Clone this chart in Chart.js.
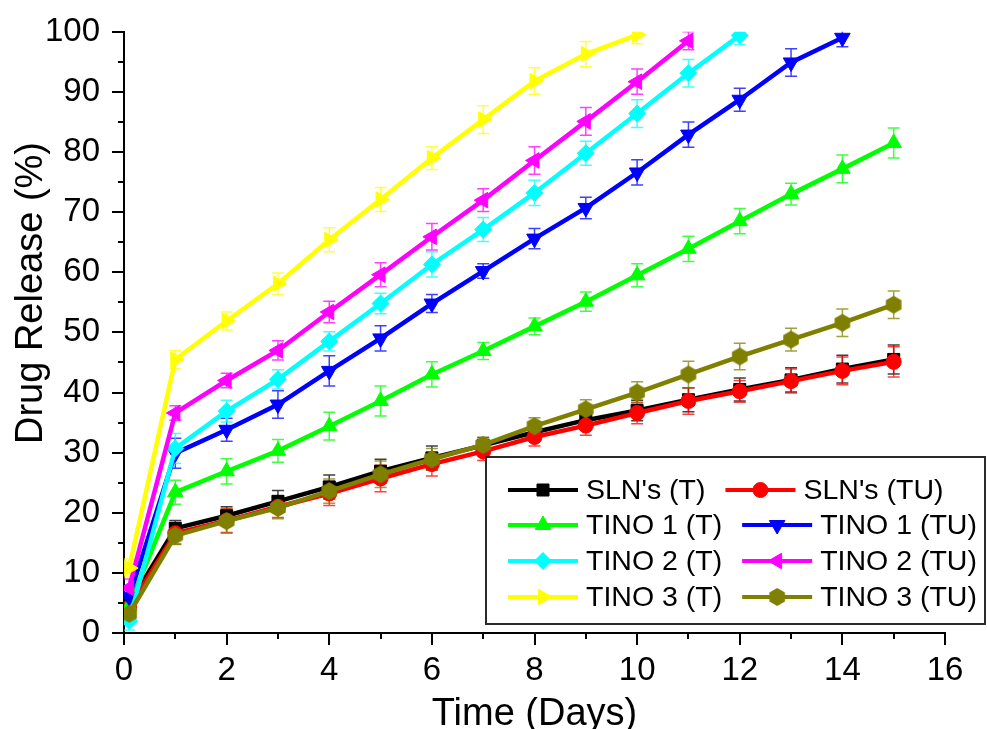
<!DOCTYPE html>
<html>
<head>
<meta charset="utf-8">
<script src="https://cdn.jsdelivr.net/npm/chart.js@4.4.1/dist/chart.umd.min.js"></script>
<style>
  html, body { margin: 0; padding: 0; background: #ffffff; }
  #wrap { width: 987px; height: 729px; }
</style>
</head>
<body>
<div id="wrap"><canvas id="c" width="987" height="729"></canvas></div>
<script>
// Sampling times (days)
const days = [0.1, 1, 2, 3, 4, 5, 6, 7, 8, 9, 10, 11, 12, 13, 14, 15];

// Cumulative drug release (%)
const slnT    = [4.8, 17.4, 19.5, 21.9, 24.3, 26.9, 29.1, 31.2, 33.4, 35.4, 37.0, 38.8, 40.5, 42.1, 43.9, 45.5];
const slnTU   = [4.2, 16.6, 18.7, 21.0, 23.2, 25.7, 28.1, 30.2, 32.6, 34.5, 36.6, 38.6, 40.2, 41.9, 43.6, 45.1];
const tino1T  = [4.5, 23.4, 26.9, 30.3, 34.4, 38.6, 43.0, 46.9, 51.0, 55.1, 59.5, 63.9, 68.5, 73.0, 77.2, 81.5];
const tino1TU = [6.0, 29.9, 33.8, 38.0, 43.6, 49.0, 54.8, 60.2, 65.6, 70.7, 76.6, 82.9, 88.7, 94.9, 99.0];
const tino2T  = [2.0, 30.7, 36.9, 42.2, 48.5, 54.8, 61.3, 67.1, 73.2, 79.8, 86.4, 93.1, 99.4];
const tino2TU = [7.5, 36.6, 42.0, 47.0, 53.4, 59.6, 65.9, 72.0, 78.6, 85.1, 91.7, 98.5];
const tino3T  = [10.8, 45.5, 51.9, 58.1, 65.4, 72.1, 79.0, 85.4, 91.8, 96.3, 99.5];
const tino3TU = [3.2, 16.2, 18.6, 20.8, 23.6, 26.4, 28.9, 31.3, 34.4, 37.2, 40.0, 43.0, 46.0, 48.8, 51.6, 54.6];

// Standard deviations (±, %)
const slnTErr    = [1.0, 1.3, 1.5, 1.8, 2.0, 2.0, 2.0, 1.3, 1.4, 1.5, 1.7, 2.0, 1.9, 2.0, 2.3, 2.4];
const slnTUErr   = [1.0, 1.8, 2.0, 1.8, 2.0, 2.2, 2.0, 1.5, 1.5, 1.6, 1.8, 2.2, 1.8, 2.0, 2.3, 2.5];
const tino1TErr  = [1.0, 2.0, 2.1, 1.9, 2.3, 2.5, 2.1, 1.4, 1.4, 1.6, 1.9, 2.1, 2.1, 1.8, 2.3, 2.5];
const tino1TUErr = [1.2, 2.5, 1.9, 2.3, 2.5, 2.1, 1.5, 1.2, 1.7, 1.8, 2.1, 2.1, 1.9, 2.3, 1.5];
const tino2TErr  = [1.5, 2.5, 1.8, 1.6, 1.6, 1.7, 2.1, 2.0, 2.1, 2.0, 2.3, 2.3, 1.5];
const tino2TUErr = [1.5, 1.2, 1.2, 1.6, 1.8, 2.0, 2.2, 1.9, 2.3, 2.3, 2.1, 1.5];
const tino3TErr  = [1.5, 1.5, 1.5, 1.8, 2.0, 2.0, 1.9, 2.3, 2.2, 2.1, 1.5];
const tino3TUErr = [1.0, 1.5, 2.0, 1.8, 2.0, 2.2, 1.8, 1.2, 1.4, 1.6, 1.8, 2.2, 2.2, 1.9, 2.3, 2.3];

const seriesNames = ["SLN's (T)", "SLN's (TU)", "TINO 1 (T)", "TINO 1 (TU)",
                     "TINO 2 (T)", "TINO 2 (TU)", "TINO 3 (T)", "TINO 3 (TU)"];

// Axis ticks
const xMajorTicks = [0, 2, 4, 6, 8, 10, 12, 14, 16];
const yMajorTicks = [0, 10, 20, 30, 40, 50, 60, 70, 80, 90, 100];

const FONT = "'Liberation Sans', Arial, sans-serif";

// Hexagon marker drawn once on a small canvas
function hexagonMarker(color, r) {
  const size = Math.ceil(r * 2) + 2;
  const cv = document.createElement('canvas');
  cv.width = size; cv.height = size;
  const g = cv.getContext('2d');
  const c = size / 2;
  g.beginPath();
  for (let k = 0; k < 6; k++) {
    const a = Math.PI / 6 + k * Math.PI / 3;
    const px = c + r * Math.cos(a), py = c + r * Math.sin(a);
    if (k === 0) g.moveTo(px, py); else g.lineTo(px, py);
  }
  g.closePath();
  g.fillStyle = color;
  g.fill();
  return cv;
}

const styles = [
  { color: '#000000', pointStyle: 'rect',     rotation: 0,   radius: 8.5 },
  { color: '#ff0000', pointStyle: 'circle',   rotation: 0,   radius: 7.5 },
  { color: '#00ff00', pointStyle: 'triangle', rotation: 0,   radius: 9 },
  { color: '#0000ff', pointStyle: 'triangle', rotation: 180, radius: 9 },
  { color: '#00ffff', pointStyle: 'rectRot',  rotation: 0,   radius: 8.5 },
  { color: '#ff00ff', pointStyle: 'triangle', rotation: -90, radius: 9 },
  { color: '#ffff00', pointStyle: 'triangle', rotation: 90,  radius: 9 },
  { color: '#808000', pointStyle: hexagonMarker('#808000', 9), rotation: 0, radius: 9 }
];

const values = [slnT, slnTU, tino1T, tino1TU, tino2T, tino2TU, tino3T, tino3TU];
const errors = [slnTErr, slnTUErr, tino1TErr, tino1TUErr, tino2TErr, tino2TUErr, tino3TErr, tino3TUErr];

const datasets = values.map((vals, i) => ({
  label: seriesNames[i],
  data: vals.map((v, j) => ({ x: days[j], y: v })),
  errors: errors[i],
  borderColor: styles[i].color,
  backgroundColor: styles[i].color,
  borderWidth: 4.5,
  pointStyle: styles[i].pointStyle,
  pointRotation: styles[i].rotation,
  pointRadius: styles[i].radius,
  pointBorderWidth: 1,
  pointBackgroundColor: styles[i].color,
  pointBorderColor: styles[i].color,
  tension: 0,
  clip: 0,
  order: values.length - 1 - i
}));

// Error bars beneath each series
const errorBarPlugin = {
  id: 'errorBars',
  beforeDatasetsDraw(chart) {
    const ctx = chart.ctx;
    const area = chart.chartArea;
    const xs = chart.scales.x, ys = chart.scales.y;
    ctx.save();
    ctx.beginPath();
    ctx.rect(area.left, area.top, area.right - area.left, area.bottom - area.top);
    ctx.clip();
    ctx.lineWidth = 1.5;
    chart.data.datasets.forEach((ds) => {
      ctx.strokeStyle = ds.borderColor;
      ctx.globalAlpha = 0.75;
      ds.data.forEach((p, j) => {
        const e = ds.errors[j];
        const px = xs.getPixelForValue(p.x);
        const pTop = ys.getPixelForValue(p.y + e);
        const pBot = ys.getPixelForValue(p.y - e);
        ctx.beginPath();
        ctx.moveTo(px, pTop); ctx.lineTo(px, pBot);
        ctx.moveTo(px - 6, pTop); ctx.lineTo(px + 6, pTop);
        ctx.moveTo(px - 6, pBot); ctx.lineTo(px + 6, pBot);
        ctx.stroke();
      });
    });
    ctx.restore();
  }
};

// Outward tick marks, axis titles and the boxed legend
const decorPlugin = {
  id: 'decor',
  afterDraw(chart) {
    const ctx = chart.ctx;
    const area = chart.chartArea;
    const xs = chart.scales.x, ys = chart.scales.y;
    ctx.save();
    ctx.strokeStyle = '#000000';
    ctx.lineWidth = 2;
    // x ticks
    for (let v = 0; v <= 16; v++) {
      const px = Math.round(xs.getPixelForValue(v));
      const len = xMajorTicks.includes(v) ? 12 : 6;
      ctx.beginPath();
      ctx.moveTo(px, area.bottom);
      ctx.lineTo(px, area.bottom + len);
      ctx.stroke();
    }
    // y ticks
    for (let v = 0; v <= 100; v += 5) {
      const py = Math.round(ys.getPixelForValue(v));
      const len = yMajorTicks.includes(v) ? 12 : 6;
      ctx.beginPath();
      ctx.moveTo(area.left, py);
      ctx.lineTo(area.left - len, py);
      ctx.stroke();
    }

    // axis titles
    ctx.fillStyle = '#000000';
    ctx.font = '38px ' + FONT;
    ctx.textAlign = 'center';
    ctx.textBaseline = 'alphabetic';
    ctx.fillText('Time (Days)', (area.left + area.right) / 2, 725);
    ctx.save();
    ctx.translate(42, 293);
    ctx.rotate(-Math.PI / 2);
    ctx.fillText('Drug Release (%)', 0, 0);
    ctx.restore();

    // legend box
    const box = { left: 486, top: 457, right: 985, bottom: 624 };
    ctx.fillStyle = '#ffffff';
    ctx.fillRect(box.left, box.top, box.right - box.left, box.bottom - box.top);
    ctx.strokeStyle = '#2b2b2b';
    ctx.lineWidth = 2;
    ctx.strokeRect(box.left, box.top, box.right - box.left, box.bottom - box.top);

    const rowsY = [490, 525, 561, 597];
    const lineLen = 70;
    const textGap = 8;
    const colGap = 20;
    ctx.font = '28.5px ' + FONT;
    ctx.textAlign = 'left';
    ctx.textBaseline = 'middle';
    const ds = chart.data.datasets;
    for (let r = 0; r < 4; r++) {
      let x = 508;
      for (let c = 0; c < 2; c++) {
        const d = ds[r * 2 + c];
        const y = rowsY[r];
        ctx.strokeStyle = d.borderColor;
        ctx.lineWidth = 4;
        ctx.beginPath();
        ctx.moveTo(x, y); ctx.lineTo(x + lineLen, y);
        ctx.stroke();
        ctx.fillStyle = d.pointBackgroundColor;
        ctx.strokeStyle = d.pointBorderColor;
        ctx.lineWidth = 1;
        Chart.helpers.drawPoint(ctx, {
          pointStyle: d.pointStyle,
          rotation: d.pointRotation,
          radius: d.pointRadius,
          borderWidth: 1
        }, x + lineLen / 2, y);
        ctx.fillStyle = '#000000';
        ctx.fillText(d.label, x + lineLen + textGap, y + 1);
        x = x + lineLen + textGap + ctx.measureText(d.label).width + colGap;
      }
    }
    ctx.restore();
  }
};

new Chart(document.getElementById('c'), {
  type: 'line',
  data: { datasets },
  options: {
    responsive: false,
    devicePixelRatio: 1,
    animation: false,
    layout: { padding: { top: 30, right: 42, left: 0, bottom: 0 } },
    plugins: {
      legend: { display: false },
      tooltip: { enabled: false },
      title: { display: false }
    },
    scales: {
      x: {
        type: 'linear',
        min: 0, max: 16,
        afterFit: (s) => { s.height = 96; },
        border: { display: true, color: '#000000', width: 2 },
        grid: { display: true, drawOnChartArea: false, drawTicks: true, tickLength: 12, tickColor: 'rgba(0,0,0,0)' },
        ticks: {
          stepSize: 2,
          autoSkip: false,
          maxRotation: 0,
          padding: 6,
          color: '#000000',
          font: { family: FONT, size: 33 },
          callback: (v) => xMajorTicks.includes(v) ? String(v) : ''
        }
      },
      y: {
        type: 'linear',
        min: 0, max: 100,
        afterFit: (s) => { s.width = 124; },
        border: { display: true, color: '#000000', width: 2 },
        grid: { display: true, drawOnChartArea: false, drawTicks: true, tickLength: 12, tickColor: 'rgba(0,0,0,0)' },
        ticks: {
          stepSize: 10,
          autoSkip: false,
          padding: 12,
          color: '#000000',
          font: { family: FONT, size: 33 },
          callback: (v) => yMajorTicks.includes(v) ? String(v) : ''
        }
      }
    }
  },
  plugins: [errorBarPlugin, decorPlugin]
});
</script>
</body>
</html>
